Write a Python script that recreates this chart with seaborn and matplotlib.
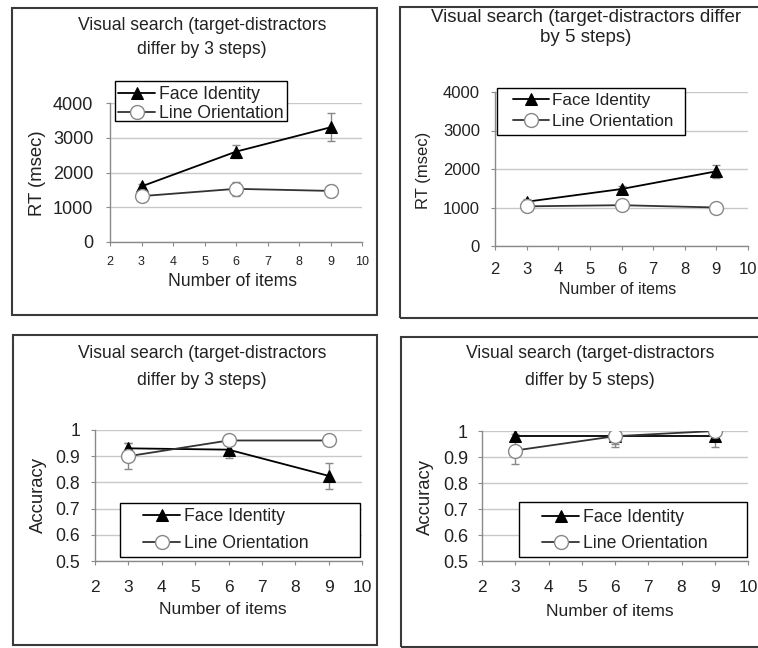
import matplotlib
matplotlib.use("Agg")
import matplotlib.pyplot as plt
from matplotlib.patches import Rectangle
import seaborn as sns

sns.set_style("white")
plt.rcParams['font.family'] = ['Liberation Sans', 'DejaVu Sans']

W, H = 758, 648

# ---------------- data ----------------
items = [3, 6, 9]
series_names = ["Face Identity", "Line Orientation"]

rt3_face = [1600, 2600, 3300]
rt3_face_err = [80, 180, 400]
rt3_line = [1320, 1530, 1470]
rt3_line_err = [100, 200, 180]

rt5_face = [1150, 1480, 1940]
rt5_face_err = [60, 80, 170]
rt5_line = [1030, 1060, 1000]
rt5_line_err = [60, 60, 60]

acc3_face = [0.93, 0.925, 0.825]
acc3_face_err = [0.02, 0.03, 0.05]
acc3_line = [0.9, 0.96, 0.96]
acc3_line_err = [0.05, 0.01, 0.01]

acc5_face = [0.98, 0.98, 0.98]
acc5_face_err = [0.01, 0.03, 0.04]
acc5_line = [0.925, 0.98, 1.0]
acc5_line_err = [0.05, 0.04, 0.005]

titles = [["Visual search (target-distractors", "differ by 3 steps)"],
          ["Visual search (target-distractors differ", "by 5 steps)"],
          ["Visual search (target-distractors", "differ by 3 steps)"],
          ["Visual search (target-distractors", "differ by 5 steps)"]]
ylabels = ["RT (msec)", "RT (msec)", "Accuracy", "Accuracy"]
xlabel = "Number of items"
xticks = [2, 3, 4, 5, 6, 7, 8, 9, 10]
rt_ticks = [0, 1000, 2000, 3000, 4000]
acc_ticks = [0.5, 0.6, 0.7, 0.8, 0.9, 1.0]
acc_ticklabels = ["0.5", "0.6", "0.7", "0.8", "0.9", "1"]

# ---------------- layout (pixels) ----------------
def fx(px):
    return px / W

def fy(py):
    return 1 - py / H

panels = [
    dict(ax=(110, 103, 362, 242), frame=(12, 8, 377, 315),
         face=rt3_face, fe=rt3_face_err, line=rt3_line, le=rt3_line_err,
         yticks=rt_ticks, ytl=None, ylim=(0, 4000),
         title_x=202, title_y=(25, 50), title_fs=12.7,
         ylab_xy=(38, 173), ylab_fs=13.3, xlab_xy=(233, 281), xlab_fs=12.7,
         legbox=(115, 81, 287, 121), leg_xy=(118, 104), legspace=0.08, leg_fs=12.7,
         xtick_fs=9, xpad=7, ytick_fs=13, ypad=9),
    dict(ax=(495, 92, 748, 246), frame=(400, 7, 762, 318),
         face=rt5_face, fe=rt5_face_err, line=rt5_line, le=rt5_line_err,
         yticks=rt_ticks, ytl=None, ylim=(0, 4000),
         title_x=586, title_y=(17, 37), title_fs=13.5,
         ylab_xy=(423, 170), ylab_fs=12, xlab_xy=(618, 289), xlab_fs=11.5,
         legbox=(497, 88, 685, 135), leg_xy=(513, 111), legspace=0.35, leg_fs=12.3,
         xtick_fs=12, xpad=8.3, ytick_fs=12, ypad=7.8),
    dict(ax=(95, 430, 362, 561), frame=(13, 335, 377, 645),
         face=acc3_face, fe=acc3_face_err, line=acc3_line, le=acc3_line_err,
         yticks=acc_ticks, ytl=acc_ticklabels, ylim=(0.5, 1.0),
         title_x=202, title_y=(353, 380), title_fs=12.7,
         ylab_xy=(38, 495), ylab_fs=13.3, xlab_xy=(223, 609), xlab_fs=12.5,
         legbox=(120, 503, 360, 557), leg_xy=(143, 530), legspace=0.58, leg_fs=12.7,
         xtick_fs=12.5, xpad=11, ytick_fs=12.7, ypad=7.8),
    dict(ax=(482, 431, 748, 561), frame=(401, 337, 762, 647),
         face=acc5_face, fe=acc5_face_err, line=acc5_line, le=acc5_line_err,
         yticks=acc_ticks, ytl=acc_ticklabels, ylim=(0.5, 1.0),
         title_x=590, title_y=(353, 380), title_fs=12.7,
         ylab_xy=(425, 497), ylab_fs=13.3, xlab_xy=(610, 611), xlab_fs=12.5,
         legbox=(519, 502, 747, 557), leg_xy=(542, 530.5), legspace=0.52, leg_fs=12.7,
         xtick_fs=12.5, xpad=11, ytick_fs=13, ypad=7),
]

fig = plt.figure(figsize=(W / 100, H / 100), dpi=100)

def fig_rect(box, lw, color, z, fill=False):
    x0, y0, x1, y1 = box
    return Rectangle((fx(x0), fy(y1)), fx(x1) - fx(x0), fy(y0) - fy(y1),
                     transform=fig.transFigure, fill=fill, facecolor="white",
                     edgecolor=color, linewidth=lw, zorder=z)

for i, p in enumerate(panels):
    fig.patches.append(fig_rect(p["frame"], 1.5, "#3a3a3a", 0))
    l, t, r, b = p["ax"]
    ax = fig.add_axes([fx(l), fy(b), fx(r) - fx(l), fy(t) - fy(b)])

    ax.errorbar(items, p["face"], yerr=p["fe"], fmt="none", ecolor="#888888",
                elinewidth=1, capsize=3, zorder=2)
    ax.errorbar(items, p["line"], yerr=p["le"], fmt="none", ecolor="#888888",
                elinewidth=1, capsize=3, zorder=2)

    sns.lineplot(x=items, y=p["face"], ax=ax, color="black", linewidth=1.3,
                 marker="^", markersize=9, markerfacecolor="black",
                 markeredgecolor="black", label=series_names[0], zorder=3)
    sns.lineplot(x=items, y=p["line"], ax=ax, color="#333333", linewidth=1.3,
                 marker="o", markersize=10, markerfacecolor="white",
                 markeredgecolor="#888888", markeredgewidth=1,
                 label=series_names[1], zorder=3)

    ax.set_xlim(2, 10)
    ax.set_ylim(*p["ylim"])
    ax.set_xticks(xticks)
    ax.set_yticks(p["yticks"])
    if p["ytl"] is not None:
        ax.set_yticklabels(p["ytl"])
    ax.yaxis.grid(True, color="#c8c8c8", linewidth=1)
    ax.xaxis.grid(False)
    ax.set_axisbelow(True)
    for s in ["top", "right"]:
        ax.spines[s].set_visible(False)
    for s in ["left", "bottom"]:
        ax.spines[s].set_color("#8a8a8a")
        ax.spines[s].set_linewidth(1)
    ax.tick_params(axis="x", direction="out", length=3, color="#8a8a8a",
                   labelsize=p["xtick_fs"], labelcolor="#222222", pad=p["xpad"], bottom=True)
    ax.tick_params(axis="y", direction="out", length=3, color="#8a8a8a",
                   labelsize=p["ytick_fs"], labelcolor="#222222", pad=p["ypad"], left=True)

    ax.set_xlabel(xlabel, fontsize=p["xlab_fs"], color="#222222")
    ax.xaxis.set_label_coords(fx(p["xlab_xy"][0]), fy(p["xlab_xy"][1]),
                              transform=fig.transFigure)
    ax.xaxis.label.set_va("center")
    ax.set_ylabel(ylabels[i], fontsize=p["ylab_fs"], color="#222222")
    ax.yaxis.set_label_coords(fx(p["ylab_xy"][0]), fy(p["ylab_xy"][1]),
                              transform=fig.transFigure)
    ax.yaxis.label.set_va("center")

    for line_txt, ty in zip(titles[i], p["title_y"]):
        fig.text(fx(p["title_x"]), fy(ty), line_txt, ha="center", va="center",
                 fontsize=p["title_fs"], color="#222222")

    # legend: white box with black frame matching the original, entries on top
    box = fig_rect(p["legbox"], 1.0, "black", 4, fill=True)
    box.set_clip_on(False)
    ax.add_patch(box)
    leg = ax.legend(loc="center left", bbox_to_anchor=(fx(p["leg_xy"][0]), fy(p["leg_xy"][1])),
                    bbox_transform=fig.transFigure, borderaxespad=0, borderpad=0,
                    frameon=False, fontsize=p["leg_fs"], labelspacing=p["legspace"],
                    handlelength=2.1, handletextpad=0.2)
    leg.set_zorder(6)
    for txt in leg.get_texts():
        txt.set_color("#222222")

fig.savefig("out.png", dpi=100, facecolor="white")
